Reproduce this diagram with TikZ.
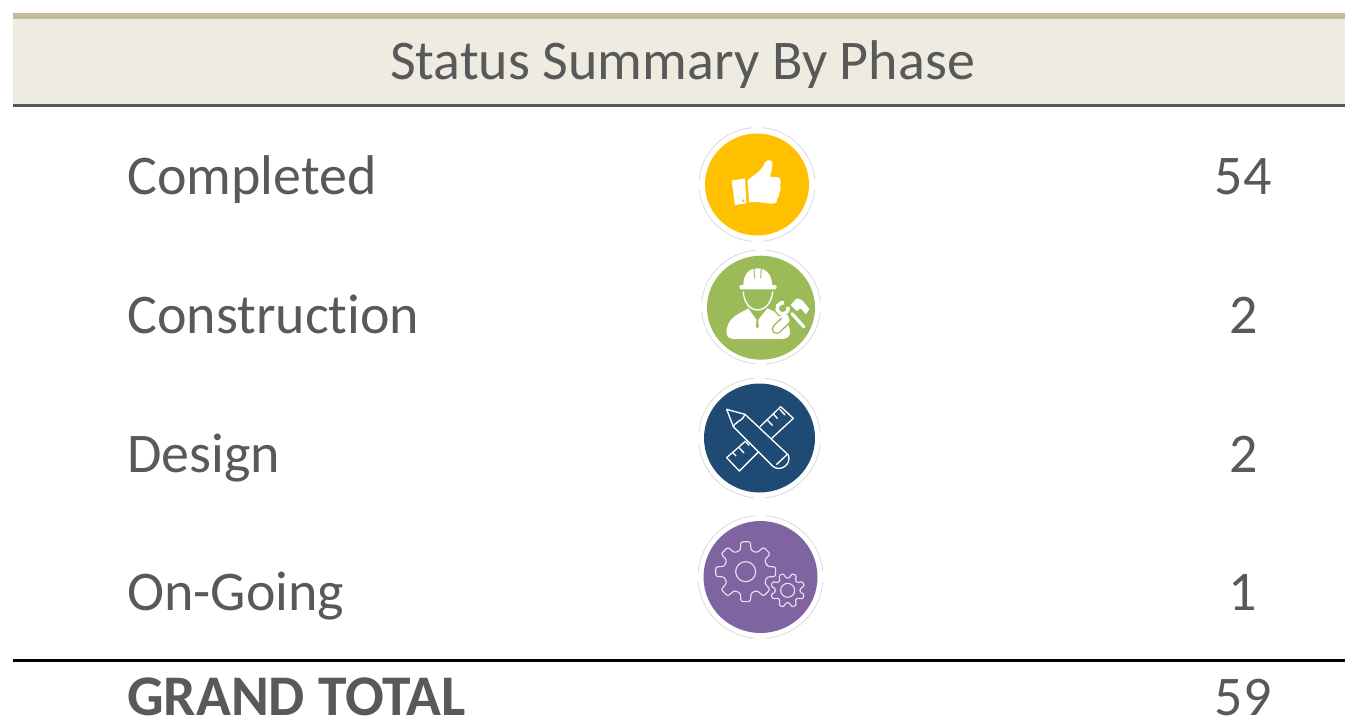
\documentclass[tikz,border=0pt]{standalone}
\usepackage{fontspec}
\setmainfont[Ligatures=NoCommon]{Carlito}
\definecolor{txt}{HTML}{595959}
\definecolor{band}{HTML}{EEEBE0}
\definecolor{topbar}{HTML}{C4BC96}
\definecolor{yel}{HTML}{FFC000}
\definecolor{grn}{HTML}{9BBB59}
\definecolor{nav}{HTML}{1F4A73}
\definecolor{pur}{HTML}{8064A2}
\definecolor{ringc}{HTML}{DADADA}
\definecolor{gearc}{HTML}{E6E0EC}
\tikzset{x=0.75pt,y=-0.75pt,
 lab/.style={text=txt,font=\fontsize{42}{42}\selectfont,anchor=base west,inner sep=0},
 num/.style={text=txt,font=\fontsize{42}{42}\selectfont,anchor=base,inner sep=0},
 iconline/.style={white,line width=1pt,line join=round,line cap=round},
 zoomed/.style={shift={(#1)},x=0.25pt,y=-0.25pt},
}
% ring of four arcs with small gaps: cx cy rx ry
\newcommand{\ringarcs}[4]{%
 \foreach \a in {0,90,180,270}{%
  \draw[ringc,line width=0.6pt] ({#1+#3*cos(\a+5)},{#2+#4*sin(\a+5)}) arc[start angle=\a+5,end angle=\a+85,x radius=#3,y radius=#4];
 }}
% gear: cx cy inner outer rotation
\newcommand{\geartooth}[5]{%
 \draw[gearc,line width=0.85pt,line join=round,rounded corners=1.6pt]
  ({#1+#3*cos(#5-14)},{#2+#3*sin(#5-14)})
  \foreach \k in {0,45,...,315}{
   -- ({#1+#3*cos(#5+\k-14)},{#2+#3*sin(#5+\k-14)})
   -- ({#1+#4*cos(#5+\k-9)},{#2+#4*sin(#5+\k-9)})
   -- ({#1+#4*cos(#5+\k+9)},{#2+#4*sin(#5+\k+9)})
   -- ({#1+#3*cos(#5+\k+14)},{#2+#3*sin(#5+\k+14)})
  } -- cycle;
}
\begin{document}
\begin{tikzpicture}
\useasboundingbox (0,0) rectangle (1345,727);
\fill[band] (13,19) rectangle (1345,104);
\fill[topbar] (13,13) rectangle (1345,19);
\fill[txt] (13,104) rectangle (1345,107);
\fill[black] (13,659) rectangle (1345,661.5);
\node[text=txt,font=\fontsize{42}{42}\selectfont,anchor=base,inner sep=0] (title) at (682.5,80) {Status Summary By Phase};
\node[lab] (l1) at (127,195) {Completed};
\node[lab] (l2) at (127,333) {Construction};
\node[lab] (l3) at (127,472) {Design};
\node[lab] (l4) at (127,610) {On-Going};
\node[lab,font=\fontsize{43.1}{43.1}\selectfont\bfseries] (l5) at (127,715) {GRAND TOTAL};
\node[num] (n1) at (1243,195) {54};
\node[num] (n2) at (1244,333) {2};
\node[num] (n3) at (1244,472) {2};
\node[num] (n4) at (1243,610) {1};
\node[num] (n5) at (1243,715) {59};
% Completed
\ringarcs{757}{184.5}{58}{57}
\fill[yel] (757,184.5) ellipse[x radius=52,y radius=51];
\begin{scope}[zoomed={680,115}]
 \fill[white] (155,197) -- (195,190) -- (199,265) -- (165,270) -- cycle;
 \fill[yel] (190,257) circle[radius=4];
 \fill[white] (203,196) .. controls (225,178) and (240,170) .. (250,153)
   .. controls (255,135) and (270,130) .. (277,142)
   .. controls (280,155) and (272,170) .. (270,185)
   -- (295,187) .. controls (304,190) and (303,205) .. (300,210)
   .. controls (303,220) and (302,228) .. (298,232)
   .. controls (300,240) and (296,248) .. (291,250)
   .. controls (292,260) and (288,266) .. (278,266)
   .. controls (255,266) and (230,258) .. (207,262) -- cycle;
\end{scope}
% Construction
\ringarcs{761}{307}{59.5}{57}
\fill[grn] (761,307.7) ellipse[x radius=54,y radius=52];
\begin{scope}[zoomed={680,245}]
 \fill[white] (190,120) .. controls (190,85) and (210,70) .. (232,70)
   .. controls (255,70) and (276,85) .. (276,120) -- cycle;
 \fill[white,rounded corners=1.5pt] (178,120) rectangle (290,133);
 \draw[grn,line width=0.7pt] (222,72) -- (224,100) (244,72) -- (242,100);
 \draw[white,line width=1pt] (190,140) .. controls (192,175) and (212,195) .. (232,195)
   .. controls (254,195) and (275,175) .. (278,140);
 \fill[white] (205,190) -- (232,228) -- (262,190) -- (300,208)
   .. controls (320,225) and (330,245) .. (330,262)
   .. controls (330,275) and (320,282) .. (305,282) -- (160,282)
   .. controls (140,282) and (135,262) .. (142,245)
   .. controls (150,215) and (180,205) .. (205,190) -- cycle;
 \fill[grn] (229,210) -- (235,210) -- (234,218) -- (236,245) -- (232,250) -- (228,245) -- (230,218) -- cycle;
 % hammer
 \draw[grn,line width=4.4pt,line cap=round] (372,246) -- (336,206);
 \draw[white,line width=2.4pt,line cap=round] (372,246) -- (336,206);
 \draw[grn,line width=1.2pt,line join=round] (332,180) -- (350,160) -- (366,165) -- (388,192) -- (378,208) -- (362,190) -- (350,198) -- cycle;
 \fill[white] (332,180) -- (350,160) -- (366,165) -- (388,192) -- (378,208) -- (362,190) -- (350,198) -- cycle;
 % wrench
 \draw[grn,line width=7.6pt,line cap=round] (290,252) -- (318,225);
 \draw[white,line width=5.4pt,line cap=round] (290,252) -- (318,225);
 \draw[grn,line width=4.6pt] (308,190) ++(-15:17) arc[start angle=-15,end angle=285,radius=17];
 \draw[white,line width=2.6pt] (308,190) ++(-15:17) arc[start angle=-15,end angle=285,radius=17];
 \fill[white] (312,202) -- (326,214) -- (316,228) -- (300,214) -- cycle;
\end{scope}
% Design
\ringarcs{759.5}{438}{61}{60}
\fill[nav] (759.5,438) ellipse[x radius=55.5,y radius=54.5];
\begin{scope}[zoomed={680,375}]
 \draw[iconline] (197,198) -- (140,248) -- (178,288) -- (234,232);
 \draw[iconline] (240,155) -- (302,95) -- (340,130) -- (275,190);
 \draw[iconline] (158,232) -- (168,243) (177,218) -- (192,234) (197,200) -- (207,211);
 \draw[iconline] (262,135) -- (277,151) (281,118) -- (292,130) (300,104) -- (315,120);
 \draw[iconline] (140,103) -- (195,118) -- (325,240)
   .. controls (335,265) and (305,292) .. (280,275) -- (160,155) -- cycle;
 \draw[iconline] (160,155) .. controls (165,140) and (172,150) .. (174,140)
   .. controls (180,135) and (188,135) .. (195,118);
 \draw[iconline] (290,268) -- (322,238);
\end{scope}
% On-Going
\ringarcs{760.5}{577}{62.5}{61.5}
\fill[pur] (760.5,577) ellipse[x radius=57,y radius=56];
\begin{scope}[zoomed={680,510}]
 \geartooth{197}{185}{66}{91}{0}
 \draw[gearc,line width=0.85pt] (197,185) circle[radius=30];
 \geartooth{323}{241}{37}{52}{22.5}
 \draw[gearc,line width=0.85pt] (323,241) circle[radius=21];
\end{scope}
\end{tikzpicture}
\end{document}
